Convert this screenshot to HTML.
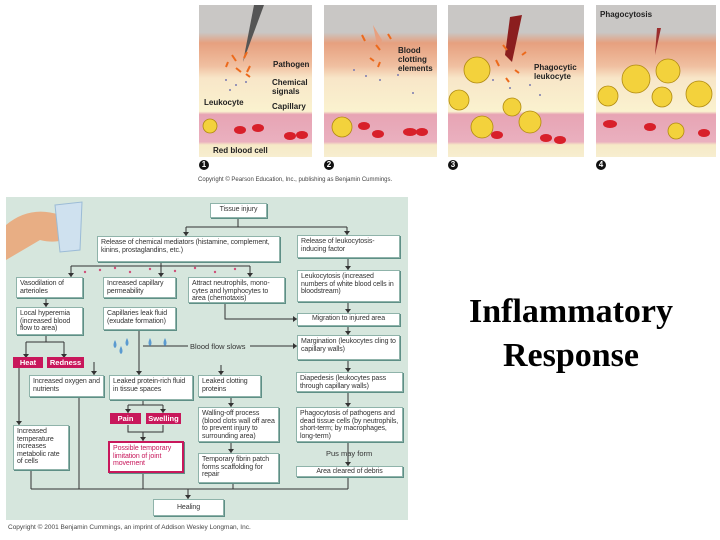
<!DOCTYPE html>
<html><head><meta charset="utf-8"><style>
*{margin:0;padding:0;box-sizing:border-box}
body{width:720px;height:540px;background:#fff;position:relative;overflow:hidden;font-family:"Liberation Sans",sans-serif}
.p{position:absolute;top:5px;height:152px;overflow:hidden;background:linear-gradient(#c9c7c5 0,#c9c7c5 18%,#e6a07f 25%,#f0bfa0 40%,#f8e6c8 48%,#faf2cf 70%,#e7a4b4 72%,#eab0bf 90%,#f6e9c6 92%,#f7eed0 100%)}
.b{position:absolute;background:#fff;border:1px solid #8fb3aa;box-shadow:1px 1px 0 #5e8f86;font-size:7px;line-height:7.5px;color:#333;padding:2px 3px;letter-spacing:-0.1px}
.r{position:absolute;background:#c8175b;color:#fff;font-size:7.5px;font-weight:bold;text-align:center;line-height:11px}
.t{position:absolute;font-size:7.5px;color:#333}
.l{position:absolute;font-size:8px;font-weight:bold;color:#222;line-height:9px}
.n{position:absolute;top:160px;width:10px;height:10px;border-radius:5px;background:#111;color:#fff;font-size:8px;font-weight:bold;text-align:center;line-height:10px}
</style></head><body>
<div class="p" style="left:199px;width:113px"></div>
<div class="p" style="left:324px;width:113px"></div>
<div class="p" style="left:448px;width:136px"></div>
<div class="p" style="left:596px;width:120px"></div>
<svg style="position:absolute;left:0;top:0" width="720" height="190">
<g fill="#d8202a"><ellipse cx="240" cy="130" rx="6" ry="4"/><ellipse cx="258" cy="128" rx="6" ry="4"/><ellipse cx="290" cy="136" rx="6" ry="4"/><ellipse cx="302" cy="135" rx="6" ry="4"/>
<ellipse cx="364" cy="126" rx="6" ry="4"/><ellipse cx="378" cy="134" rx="6" ry="4"/><ellipse cx="410" cy="132" rx="7" ry="4"/><ellipse cx="422" cy="132" rx="6" ry="4"/>
<ellipse cx="497" cy="135" rx="6" ry="4"/><ellipse cx="546" cy="138" rx="6" ry="4"/><ellipse cx="560" cy="140" rx="6" ry="4"/>
<ellipse cx="610" cy="124" rx="7" ry="4"/><ellipse cx="650" cy="127" rx="6" ry="4"/><ellipse cx="704" cy="133" rx="6" ry="4"/></g>
<g fill="#f3d23c" stroke="#b08a10" stroke-width="0.8"><circle cx="210" cy="126" r="7"/><circle cx="342" cy="127" r="10"/><circle cx="477" cy="70" r="13"/><circle cx="459" cy="100" r="10"/><circle cx="482" cy="127" r="11"/><circle cx="512" cy="107" r="9"/><circle cx="530" cy="122" r="11"/>
<circle cx="608" cy="96" r="10"/><circle cx="636" cy="79" r="14"/><circle cx="668" cy="71" r="12"/><circle cx="662" cy="97" r="10"/><circle cx="699" cy="94" r="13"/><circle cx="676" cy="131" r="8"/></g>
<path d="M254 5 L264 5 L243 62 Z" fill="#555"/><path d="M373 25 L382 40 L378 50Z" fill="#e8a07f"/><path d="M510 17 L522 15 L512 62 L505 55Z" fill="#8b1e1e"/><path d="M657 28 L661 28 L655 55Z" fill="#9b2e2e"/>
<g stroke="#ec6a1c" stroke-width="2"><path d="M232 55l4 6M244 58l3 -6M236 68l5 4M250 66l-3 6M228 62l-2 5M246 74l4 3M362 35l3 6M376 45l4 5M388 34l3 5M370 58l4 3M380 62l-2 5M503 45l4 5M496 60l3 6M522 55l4 -3M515 70l4 3M506 78l3 4"/></g>
<g fill="#7a7ab0"><circle cx="226" cy="80" r="1"/><circle cx="236" cy="85" r="1"/><circle cx="246" cy="82" r="1"/><circle cx="230" cy="90" r="1"/><circle cx="354" cy="70" r="1"/><circle cx="366" cy="76" r="1"/><circle cx="380" cy="80" r="1"/><circle cx="398" cy="75" r="1"/><circle cx="413" cy="93" r="1"/><circle cx="493" cy="80" r="1"/><circle cx="510" cy="88" r="1"/><circle cx="530" cy="85" r="1"/><circle cx="540" cy="95" r="1"/></g>
</svg>
<div class="l" style="left:273px;top:60px">Pathogen</div>
<div class="l" style="left:272px;top:78px">Chemical<br>signals</div>
<div class="l" style="left:204px;top:98px">Leukocyte</div>
<div class="l" style="left:272px;top:102px">Capillary</div>
<div class="l" style="left:213px;top:146px">Red blood cell</div>
<div class="l" style="left:398px;top:46px">Blood<br>clotting<br>elements</div>
<div class="l" style="left:534px;top:63px">Phagocytic<br>leukocyte</div>
<div class="l" style="left:600px;top:10px">Phagocytosis</div>
<div class="n" style="left:199px">1</div><div class="n" style="left:324px">2</div><div class="n" style="left:448px">3</div><div class="n" style="left:596px">4</div>
<div class="t" style="left:198px;top:177px;font-size:6px;color:#444">Copyright © Pearson Education, Inc., publishing as Benjamin Cummings.</div>

<div style="position:absolute;left:6px;top:197px;width:402px;height:323px;background:#d6e6dd"></div>
<svg style="position:absolute;left:0;top:0" width="720" height="540">
<path d="M6 225 Q30 205 60 215 L70 235 Q60 245 40 240 L6 260Z" fill="#e8ae84"/>
<path d="M55 205 L82 202 L80 250 L60 252Z" fill="#cfe1ef" stroke="#9bbbd6"/>
<g stroke="#333" stroke-width="1" fill="none">
<path d="M238 218V227M186 227H347M186 227V236M347 227V235M161 262V277M71 266H250M71 266V277M250 266V277M46 298V307M46 335V342M26 342H64M26 342V358M64 342V358M139 330V375M143 346H188M250 346H297M225 303V319H297M348 258V270M348 302V313M348 326V335M348 360V372M348 392V407M348 442V466M19 368V425M94 362V375M221 365V375M143 400V405M128 405H163M128 405V413M163 405V413M128 425V432H163V425M143 432V441M231 397V407M231 442V453M31 470V489M79 397V489M143 473V489M233 483V489M348 477V489M31 489H348M188 489V499"/>
</g>
<g fill="#333"><path d="M183 232h6l-3 4zM344 231h6l-3 4zM158 273h6l-3 4zM68 273h6l-3 4zM247 273h6l-3 4zM43 303h6l-3 4zM23 354h6l-3 4zM61 354h6l-3 4zM293 343v6l4-3zM293 316v6l4-3zM345 266h6l-3 4zM345 309h6l-3 4zM345 331h6l-3 4zM345 368h6l-3 4zM345 403h6l-3 4zM345 462h6l-3 4zM16 421h6l-3 4zM91 371h6l-3 4zM218 371h6l-3 4zM136 371h6l-3 4zM125 409h6l-3 4zM160 409h6l-3 4zM140 437h6l-3 4zM228 403h6l-3 4zM228 449h6l-3 4zM185 495h6l-3 4z"/></g>
<g fill="#d0507a"><circle cx="100" cy="270" r="1.2"/><circle cx="115" cy="268" r="1.2"/><circle cx="130" cy="272" r="1.2"/><circle cx="150" cy="269" r="1.2"/><circle cx="175" cy="271" r="1.2"/><circle cx="195" cy="268" r="1.2"/><circle cx="215" cy="272" r="1.2"/><circle cx="235" cy="269" r="1.2"/><circle cx="85" cy="272" r="1.2"/></g>
<g fill="#5a9ad0"><path d="M115 340q-3 6 0 8q3-2 0-8zM121 346q-3 6 0 8q3-2 0-8zM127 338q-3 6 0 8q3-2 0-8zM150 338q-3 6 0 8q3-2 0-8zM165 338q-3 6 0 8q3-2 0-8z"/></g>
</svg>
<div class="b" style="left:210px;top:203px;width:57px;height:15px;text-align:center">Tissue injury</div>
<div class="b" style="left:97px;top:236px;width:183px;height:26px">Release of chemical mediators (histamine, complement, kinins, prostaglandins, etc.)</div>
<div class="b" style="left:297px;top:235px;width:103px;height:23px">Release of leukocytosis-inducing factor</div>
<div class="b" style="left:16px;top:277px;width:67px;height:21px">Vasodilation of arterioles</div>
<div class="b" style="left:103px;top:277px;width:73px;height:21px">Increased capillary permeability</div>
<div class="b" style="left:188px;top:277px;width:97px;height:26px">Attract neutrophils, mono-cytes and lymphocytes to area (chemotaxis)</div>
<div class="b" style="left:297px;top:270px;width:103px;height:32px">Leukocytosis (increased numbers of white blood cells in bloodstream)</div>
<div class="b" style="left:16px;top:307px;width:67px;height:28px">Local hyperemia (increased blood flow to area)</div>
<div class="b" style="left:103px;top:307px;width:73px;height:23px">Capillaries leak fluid (exudate formation)</div>
<div class="b" style="left:297px;top:313px;width:103px;height:13px;text-align:center;padding-top:1px">Migration to injured area</div>
<div class="t" style="left:190px;top:342px">Blood flow slows</div>
<div class="b" style="left:297px;top:335px;width:103px;height:25px">Margination (leukocytes cling to capillary walls)</div>
<div class="r" style="left:13px;top:357px;width:30px">Heat</div>
<div class="r" style="left:47px;top:357px;width:37px">Redness</div>
<div class="b" style="left:29px;top:375px;width:75px;height:22px">Increased oxygen and nutrients</div>
<div class="b" style="left:109px;top:375px;width:84px;height:25px">Leaked protein-rich fluid in tissue spaces</div>
<div class="b" style="left:198px;top:375px;width:63px;height:22px">Leaked clotting proteins</div>
<div class="b" style="left:296px;top:372px;width:107px;height:20px">Diapedesis (leukocytes pass through capillary walls)</div>
<div class="b" style="left:296px;top:407px;width:107px;height:35px">Phagocytosis of pathogens and dead tissue cells (by neutrophils, short-term; by macrophages, long-term)</div>
<div class="r" style="left:110px;top:413px;width:31px">Pain</div>
<div class="r" style="left:146px;top:413px;width:35px">Swelling</div>
<div class="b" style="left:198px;top:407px;width:81px;height:35px">Walling-off process (blood clots wall off area to prevent injury to surrounding area)</div>
<div class="b" style="left:13px;top:425px;width:56px;height:45px">Increased temperature increases metabolic rate of cells</div>
<div class="b" style="left:108px;top:441px;width:76px;height:32px;border:2px solid #c8175b;color:#c8175b">Possible temporary limitation of joint movement</div>
<div class="t" style="left:326px;top:449px">Pus may form</div>
<div class="b" style="left:198px;top:453px;width:81px;height:30px">Temporary fibrin patch forms scaffolding for repair</div>
<div class="b" style="left:296px;top:466px;width:107px;height:11px;text-align:center;padding-top:1px">Area cleared of debris</div>
<div class="b" style="left:153px;top:499px;width:71px;height:17px;text-align:center;padding-top:4px">Healing</div>
<div class="t" style="left:8px;top:524px;font-size:6.5px;color:#444">Copyright © 2001 Benjamin Cummings, an imprint of Addison Wesley Longman, Inc.</div>

<div style="position:absolute;left:440px;top:290px;width:262px;text-align:center;font-family:'Liberation Serif',serif;font-weight:bold;font-size:34px;line-height:44px;color:#000">Inflammatory<br>Response</div>
</body></html>
